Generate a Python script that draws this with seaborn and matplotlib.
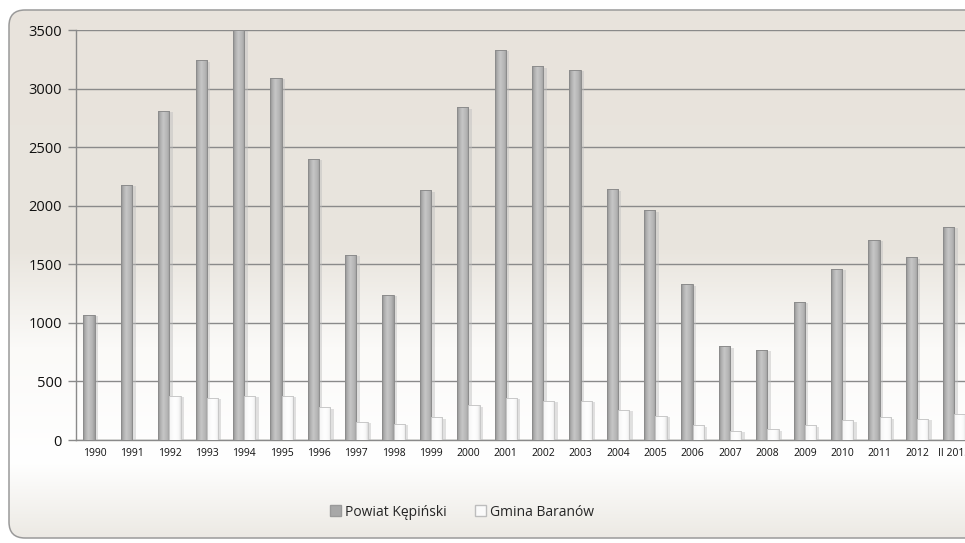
import matplotlib
matplotlib.use("Agg")
import matplotlib.pyplot as plt
import matplotlib.patheffects as pe
from matplotlib.patches import FancyBboxPatch, Rectangle, Patch
from matplotlib.colors import to_rgb
from matplotlib.ticker import MultipleLocator, FixedLocator
import numpy as np
import pandas as pd
import seaborn as sns

# data
years = [str(y) for y in range(1990, 2013)] + ["II 2013"]
powiat = [1070, 2180, 2810, 3240, 3500, 3090, 2400, 1580, 1240, 2130, 2840, 3330,
          3190, 3160, 2140, 1960, 1330, 800, 770, 1180, 1460, 1710, 1560, 1820]
gmina = [0, 0, 376, 361, 376, 376, 279, 154, 137, 194, 296, 361,
         336, 336, 256, 205, 125, 77, 91, 125, 168, 194, 179, 219]
series = ["Powiat Kępiński", "Gmina Baranów"]
colors = {series[0]: "#b5b5b5", series[1]: "#ffffff"}

df = pd.DataFrame({"rok": years * 2,
                   "wartosc": powiat + gmina,
                   "seria": [series[0]] * len(years) + [series[1]] * len(years)})

sns.set_theme(style="white")
plt.rcParams["font.family"] = ["Open Sans", "DejaVu Sans"]

W, H = 965, 543
fig = plt.figure(figsize=(W / 100, H / 100), dpi=100)
fig.patch.set_facecolor("white")


def ramp(stops, cols, n):
    """colour ramp used for the shaded fills"""
    pos = np.linspace(0, 1, n)
    cols = [to_rgb(c) for c in cols]
    return np.stack([np.interp(pos, stops, [c[i] for c in cols]) for i in range(3)], axis=-1)


# background of the chart area: rounded box with a vertical gradient
bg = fig.add_axes([0, 0, 1, 1])
bg.set_xlim(0, W)
bg.set_ylim(H, 0)
bg.axis("off")
grad = ramp([0, 0.46, 0.64, 0.85, 1.0], ["#e8e3dc", "#e9e5de", "#fbfaf8", "#ffffff", "#ebe8e2"], H)
grad = np.repeat(grad[:, None, :], 2, axis=1)
box = FancyBboxPatch((9, 10), 990, 528, boxstyle="round,pad=0,rounding_size=16",
                     facecolor="none", edgecolor="#9a9a9a", linewidth=1.1)
im = bg.imshow(grad, extent=[0, W, H, 0], aspect="auto", zorder=0)
bg.add_patch(box)
im.set_clip_path(box)

ax = fig.add_axes([76 / W, 103 / H, 897 / W, 410 / H])
ax.patch.set_alpha(0)
sns.barplot(data=df, x="rok", y="wartosc", hue="seria", ax=ax, width=0.6,
            palette=colors, edgecolor="none", saturation=1, legend=False, zorder=3)

gray_fill = ramp([0, 0.2, 0.45, 0.8, 1.0], ["#8e8e8e", "#b0b0b0", "#c6c6c6", "#b4b4b4", "#9a9a9a"], 32)[None, :, :]
white_fill = ramp([0, 0.5, 0.85, 1.0], ["#f4f4f4", "#ffffff", "#f7f7f7", "#dcdcdc"], 32)[None, :, :]

for bar in list(ax.patches):
    if bar.get_height() <= 0:
        bar.set_visible(False)
        continue
    is_white = bar.get_facecolor()[0] > 0.9
    bar.set_path_effects([pe.SimplePatchShadow(offset=(2.5, -1), shadow_rgbFace="#bdbdbd", alpha=0.45),
                          pe.Normal()])
    x0, w, h = bar.get_x(), bar.get_width(), bar.get_height()
    shade = ax.imshow(white_fill if is_white else gray_fill, extent=[x0, x0 + w, 0, h],
                      aspect="auto", zorder=3.2, interpolation="bilinear")
    shade.set_clip_path(bar)
    ax.add_patch(Rectangle((x0, 0), w, h, fill=False, linewidth=0.7, zorder=3.4,
                           edgecolor="#c8c8c8" if is_white else "#8c8c8c"))

ax.set_xlim(-0.5, len(years) - 0.5)
ax.set_ylim(0, 3500)
ax.set_aspect("auto")
ax.yaxis.set_major_locator(MultipleLocator(500))
ax.grid(axis="y", color="#8a8a8a", linewidth=1.0, zorder=1)
ax.set_axisbelow(True)
ax.set_xlabel("")
ax.set_ylabel("")

ax.xaxis.set_minor_locator(FixedLocator(np.arange(-0.5, len(years), 1.0)))
ax.tick_params(axis="x", which="major", length=0, labelsize=7.5, pad=6, labelcolor="#111111")
ax.tick_params(axis="x", which="minor", length=5, width=1, color="#8a8a8a", direction="out")
ax.tick_params(axis="y", length=6, width=1, color="#8a8a8a", labelsize=10.5, pad=4,
               labelcolor="#111111", left=True)

for side in ["top", "right"]:
    ax.spines[side].set_visible(False)
for side in ["left", "bottom"]:
    ax.spines[side].set_color("#8a8a8a")
    ax.spines[side].set_linewidth(1)

handles = [Patch(facecolor="#a8a8a8", edgecolor="#9a9a9a", label=series[0]),
           Patch(facecolor="#fafafa", edgecolor="#bdbdbd", label=series[1])]
fig.legend(handles=handles, loc="center", bbox_to_anchor=(462 / W, 1 - 512 / H),
           ncol=2, frameon=False, fontsize=10, handlelength=0.8, handleheight=0.8,
           handletextpad=0.3, columnspacing=2.0)

fig.savefig("out.png", dpi=100)
